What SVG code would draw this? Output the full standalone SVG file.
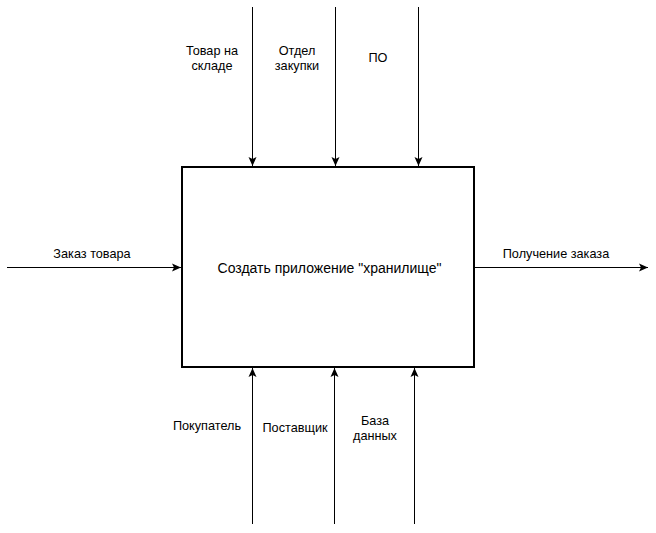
<svg xmlns="http://www.w3.org/2000/svg" width="656" height="533" viewBox="0 0 656 533">
<defs>
<marker id="arr" markerWidth="11" markerHeight="11" refX="10" refY="5.5" orient="auto" markerUnits="userSpaceOnUse" viewBox="0 0 11 11">
<path d="M1,1.5 L10,5.5 L1,9.5 L3,5.5 Z" fill="#000"/>
</marker>
</defs>
<style>
text{font-family:"Liberation Sans",Arial,sans-serif;font-size:12.7px;fill:#000;text-anchor:middle}
.c{stroke:#000;stroke-width:1;fill:none;marker-end:url(#arr)}
</style>
<rect width="656" height="533" fill="#fff"/>
<g id="connectors">
<line class="c" x1="252.5" y1="7" x2="252.5" y2="166"/>
<line class="c" x1="335.5" y1="7" x2="335.5" y2="166"/>
<line class="c" x1="418.5" y1="7" x2="418.5" y2="166"/>
<line class="c" x1="7" y1="267.5" x2="181" y2="267.5"/>
<line class="c" x1="475" y1="267.5" x2="648" y2="267.5"/>
<line class="c" x1="252.5" y1="524" x2="252.5" y2="368"/>
<line class="c" x1="334.5" y1="524" x2="334.5" y2="368"/>
<line class="c" x1="414.5" y1="524" x2="414.5" y2="368"/>
</g>
<g id="labels">
<text x="212" y="55">Товар на</text>
<text x="212" y="70">складе</text>
<text x="297" y="55">Отдел</text>
<text x="297" y="70">закупки</text>
<text x="378" y="62">ПО</text>
<text x="92" y="258">Заказ товара</text>
<text x="556" y="258">Получение заказа</text>
<text x="207" y="430">Покупатель</text>
<text x="295" y="432">Поставщик</text>
<text x="375" y="425">База</text>
<text x="375" y="440">данных</text>
</g>
<g id="node-main">
<rect x="182" y="167" width="292" height="200" fill="#fff" stroke="#000" stroke-width="2"/>
<text x="329.5" y="273" style="font-size:14px">Создать приложение "хранилище"</text>
</g>
</svg>
